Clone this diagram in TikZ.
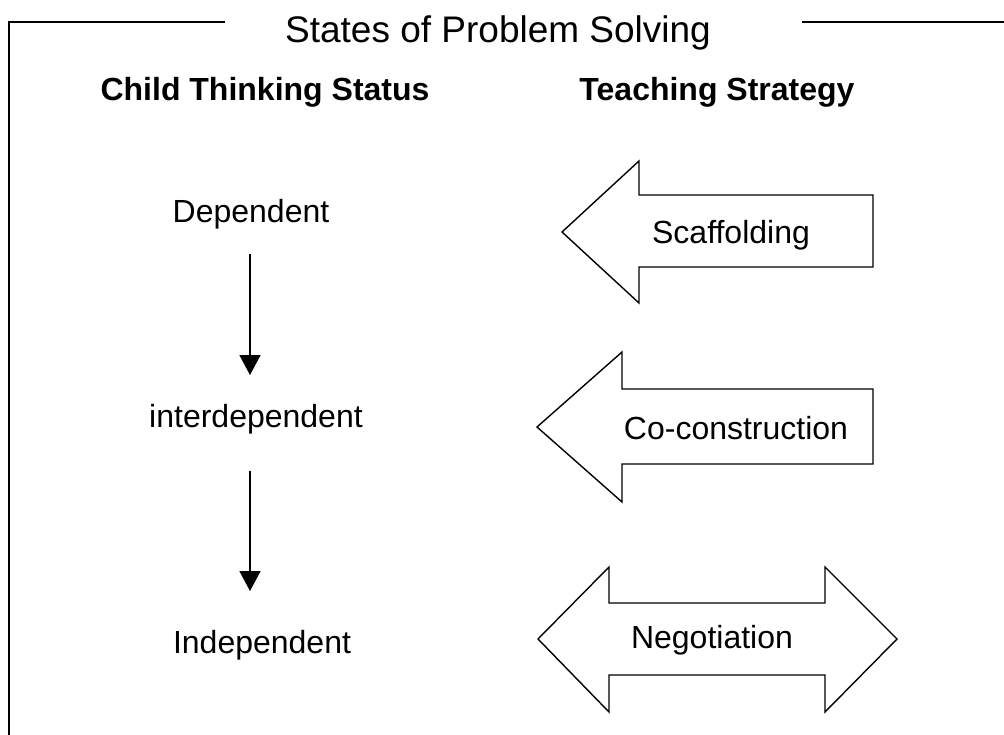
\documentclass[tikz,border=0pt]{standalone}
\usepackage{fontspec}
\setmainfont{Liberation Sans}
\usetikzlibrary{arrows.meta}
\begin{document}
\begin{tikzpicture}[x=1pt,y=-1pt,
  frameline/.style={line width=2pt},
  blockarr/.style={draw=black,line width=1.4pt,line join=miter},
  downarr/.style={line width=1.5pt,-{Triangle[width=21pt,length=20pt]}},
  body/.style={font=\fontsize{32}{36}\selectfont,inner sep=0pt,anchor=base},
  head/.style={font=\fontsize{32}{36}\selectfont\bfseries,inner sep=0pt,anchor=base},
  titletext/.style={font=\fontsize{37}{42}\selectfont,inner sep=0pt,anchor=base}]
\useasboundingbox (0,0) rectangle (1004,735);
% frame with title gap
\coordinate (fbl) at (9,736);
\coordinate (ftl) at (9,22);
\coordinate (fl) at (225,22);
\coordinate (fr) at (802,22);
\coordinate (fre) at (1005,22);
\draw[frameline] (fbl) -- (ftl) -- (fl);
\draw[frameline] (fr) -- (fre);
\node[titletext] (title) at (498,43) {States of Problem Solving};
% headers
\node[head] (hchild) at (265,101) {Child Thinking Status};
\node[head] (hteach) at (717,101) {Teaching Strategy};
% left column
\node[body] (dep) at (251,223) {Dependent};
\node[body] (inter) at (256,427) {interdependent};
\node[body] (indep) at (262,653) {Independent};
\coordinate (ax) at (250,0);
\draw[downarr,shorten <=24pt,shorten >=28.6pt] (dep.south -| ax) -- (inter.north -| ax);
\draw[downarr,shorten <=37pt,shorten >=38.6pt] (inter.south -| ax) -- (indep.north -| ax);
% block arrows
\draw[blockarr] (873,195) -- (639,195) -- (639,161) -- (562,232) -- (639,303) -- (639,267) -- (873,267) -- cycle;
\node[body] (scaf) at (731,244) {Scaffolding};
\draw[blockarr] (873,389) -- (622,389) -- (622,352) -- (537,427) -- (622,502) -- (622,464) -- (873,464) -- cycle;
\node[body] (cocon) at (736,439) {Co-construction};
\draw[blockarr] (609,603) -- (825,603) -- (825,567) -- (897,639) -- (825,712) -- (825,675) -- (609,675) -- (609,712) -- (538,639) -- (609,567) -- cycle;
\node[body] (nego) at (712,648) {Negotiation};
\end{tikzpicture}
\end{document}
